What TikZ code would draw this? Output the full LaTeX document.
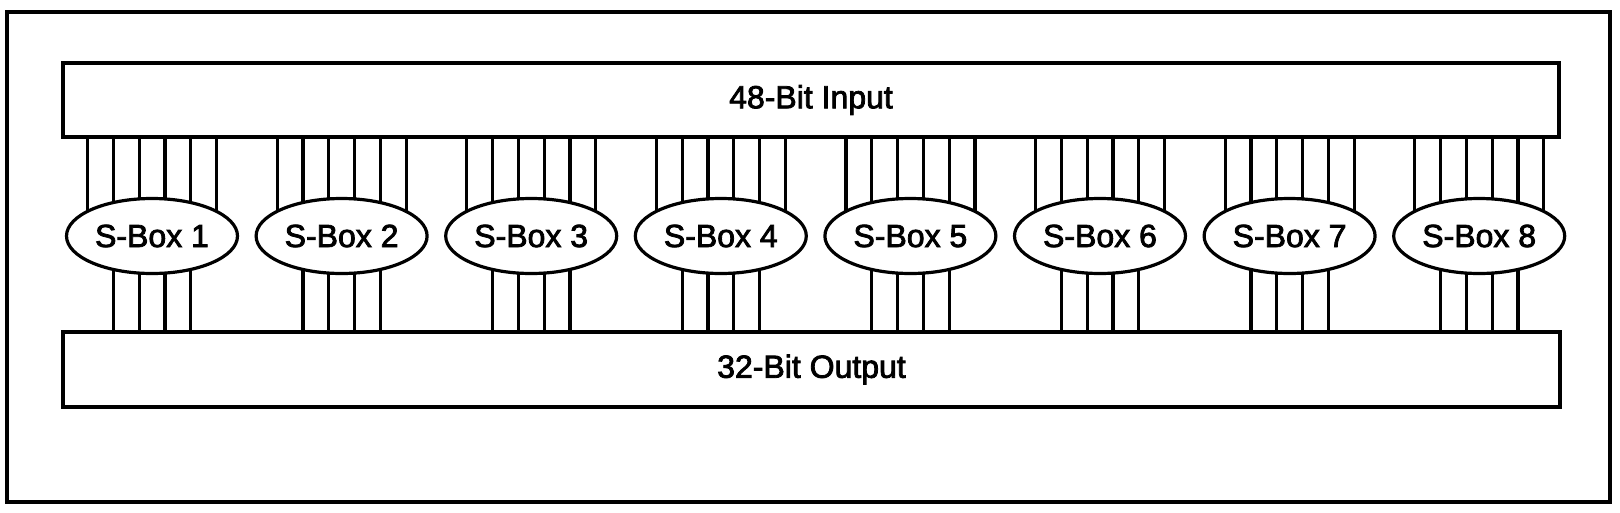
\documentclass[tikz,border=0pt]{standalone}
\usepackage{fontspec}
\setmainfont{Liberation Sans}[BoldFont=Liberation Sans, BoldFeatures={FakeBold=2.5}]
\usetikzlibrary{shapes.geometric,calc}
\begin{document}
\begin{tikzpicture}[x=1pt,y=-1pt, line width=3.2pt,
  lbl/.style={font=\fontsize{32}{38}\selectfont\bfseries},
  bar/.style={draw, rectangle, inner sep=0pt, outer sep=0pt, lbl},
  sbox/.style={draw, ellipse, minimum width=171pt, minimum height=75pt, inner sep=0pt, outer sep=0pt, lbl},
  wire/.style={line width=3.2pt}]
\useasboundingbox (0,0) rectangle (1620,512);
\node[draw, rectangle, minimum width=1603pt, minimum height=490pt, inner sep=0pt, outer sep=0pt] (frame) at (808.5,257) {};
\node[bar, minimum width=1496pt, minimum height=74pt] (inp) at (811,100) {48-Bit Input};
\node[bar, minimum width=1497pt, minimum height=75pt] (out) at (811.5,369.5) {32-Bit Output};
\foreach \i in {1,...,8} {
  \node[sbox] (sb\i) at ({152+189.6*(\i-1)},236) {S-Box \i};
  \foreach \dx in {-64.5,-38.7,-12.9,12.9,38.7,64.5} {
    \pgfmathsetmacro\dy{37.5*sqrt(1-(\dx/85.5)^2)}
    \coordinate (t) at ($(sb\i.center)+(\dx,0)$);
    \draw[wire] (inp.south -| t) -- ($(sb\i.center)+(\dx,-\dy)$);
  }
  \foreach \dx in {-38.7,-12.9,12.9,38.7} {
    \pgfmathsetmacro\dy{37.5*sqrt(1-(\dx/85.5)^2)}
    \coordinate (t) at ($(sb\i.center)+(\dx,0)$);
    \draw[wire] ($(sb\i.center)+(\dx,\dy)$) -- (out.north -| t);
  }
}
\end{tikzpicture}
\end{document}
